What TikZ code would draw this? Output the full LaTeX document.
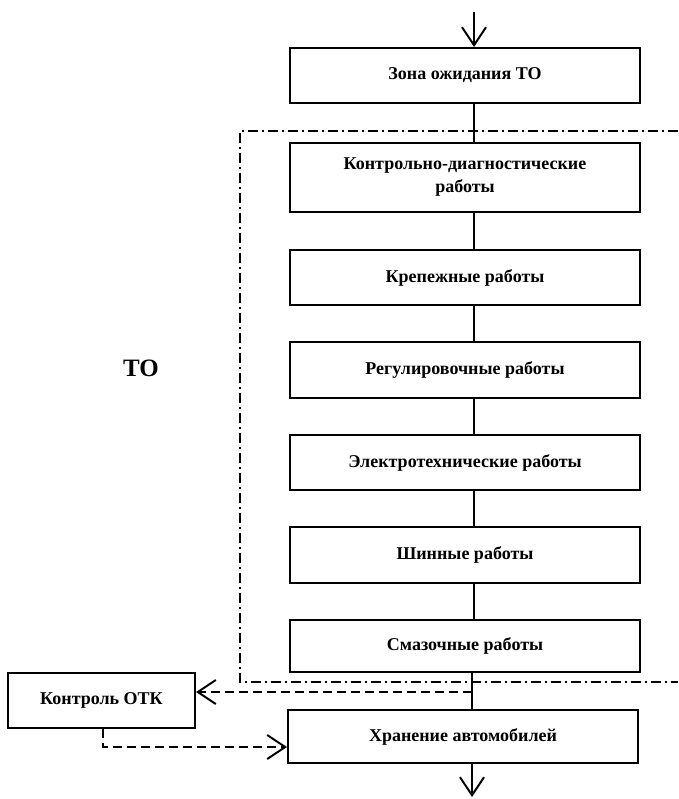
\documentclass[tikz,border=0pt]{standalone}
\usepackage{fontspec}
\setmainfont{Liberation Serif}
\usetikzlibrary{arrows.meta,calc}
\begin{document}
\begin{tikzpicture}[x=1pt,y=-1pt,
  box/.style={draw,line width=2pt,minimum width=350pt,minimum height=55pt,align=center,inner sep=0pt,font=\bfseries\fontsize{18}{23}\selectfont},
  conn/.style={line width=2pt},
  tipend/.style={-{Straight Barb[length=18pt,width=24pt,line width=2pt]}},
  dashline/.style={line width=2pt,dash pattern=on 9pt off 5pt},
  frameline/.style={line width=2pt,dash pattern=on 10pt off 4pt on 2pt off 4pt}]
\useasboundingbox (0,0) rectangle (678,799);
\node[box] (zona) at (465,75.5) {Зона ожидания ТО};
\node[box,minimum height=69pt] (kd) at (465,177.5) {Контрольно-диагностические\\работы};
\node[box] (krep) at (465,277.5) {Крепежные работы};
\node[box,minimum height=56pt] (reg) at (465,370) {Регулировочные работы};
\node[box] (el) at (465,462.5) {Электротехнические работы};
\node[box,minimum height=56pt] (shin) at (465,555) {Шинные работы};
\node[box,minimum height=52pt] (smaz) at (465,646) {Смазочные работы};
\node[box,minimum height=53pt] (hran) at (463,736.5) {Хранение автомобилей};
\node[box,minimum width=187pt,minimum height=55pt] (otk) at (101.5,700.5) {Контроль ОТК};
\node[font=\bfseries\fontsize{25}{28}\selectfont] (to) at (141,368) {ТО};
\coordinate (in) at (474,12);
\coordinate (out) at (472,797);
\draw[conn,tipend] (in) -- (in |- zona.north);
\draw[conn] ([xshift=9pt]zona.south) -- ([xshift=9pt]kd.north);
\draw[conn] ([xshift=9pt]kd.south) -- ([xshift=9pt]krep.north);
\draw[conn] ([xshift=9pt]krep.south) -- ([xshift=9pt]reg.north);
\draw[conn] ([xshift=9pt]reg.south) -- ([xshift=9pt]el.north);
\draw[conn] ([xshift=9pt]el.south) -- ([xshift=9pt]shin.north);
\draw[conn] ([xshift=9pt]shin.south) -- ([xshift=9pt]smaz.north);
\coordinate (mid) at (472,692);
\draw[conn] (smaz.south -| mid) -- (hran.north -| mid);
\draw[conn,tipend] (hran.south -| out) -- (out);
\draw[dashline,tipend] (mid) -- (otk.east |- mid);
\coordinate (otkd) at (103,747);
\draw[dashline,tipend] (otk.south -| otkd) -- (otkd) -- (hran.west |- otkd);
\coordinate (fr1) at (678,131);
\coordinate (fr2) at (240,131);
\coordinate (fr3) at (240,682);
\coordinate (fr4) at (678,682);
\draw[frameline] (fr1) -- (fr2) -- (fr3) -- (fr4);
\end{tikzpicture}
\end{document}
